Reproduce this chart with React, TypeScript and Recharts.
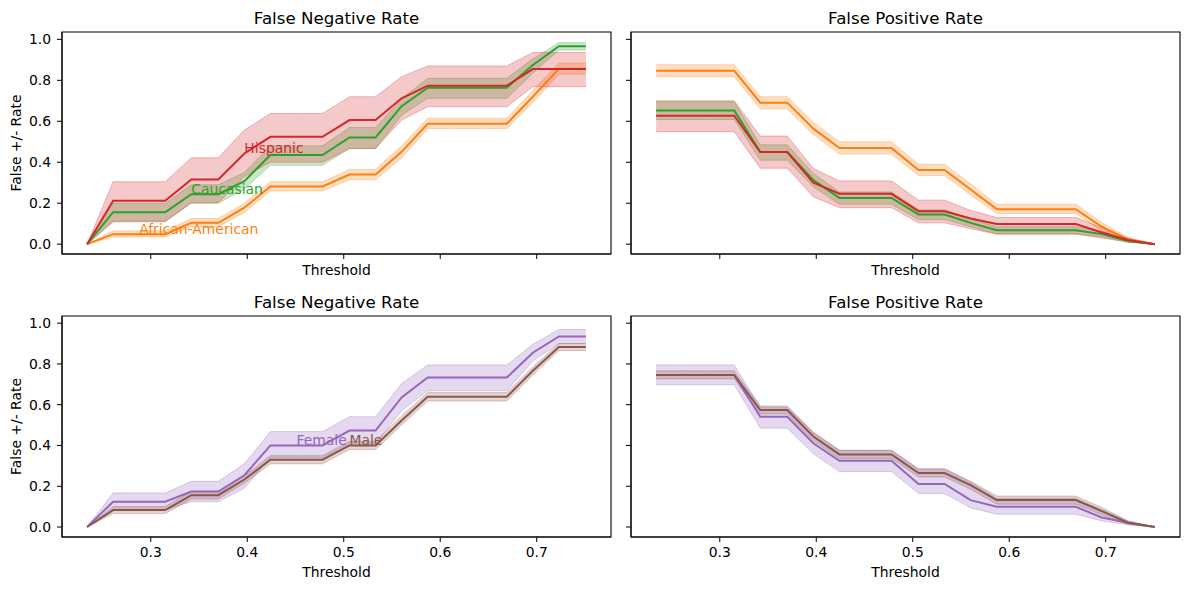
import React from 'react';
import {
  ComposedChart,
  Area,
  Line,
  XAxis,
  YAxis,
  ReferenceArea,
  ReferenceDot,
} from 'recharts';

const FONT = '"DejaVu Sans", sans-serif';

// ---------------- data ----------------
const thresholds = [0.234, 0.261, 0.288, 0.315, 0.342, 0.37, 0.397, 0.424, 0.451, 0.478, 0.506, 0.533, 0.56, 0.587, 0.614, 0.642, 0.669, 0.696, 0.723, 0.751];
const xTicks = [0.3, 0.4, 0.5, 0.6, 0.7];
const yTicks = [0, 0.2, 0.4, 0.6, 0.8, 1.0];

// False negative rate by race
const fnrAfricanAmerican = [0, 0.049, 0.049, 0.049, 0.104, 0.104, 0.178, 0.282, 0.282, 0.282, 0.34, 0.34, 0.451, 0.588, 0.588, 0.588, 0.588, 0.72, 0.857, 0.857];
const fnrAfricanAmericanLo = [0, 0.035, 0.035, 0.035, 0.085, 0.085, 0.155, 0.26, 0.26, 0.26, 0.315, 0.315, 0.42, 0.565, 0.565, 0.565, 0.565, 0.69, 0.83, 0.83];
const fnrAfricanAmericanHi = [0, 0.065, 0.065, 0.065, 0.125, 0.125, 0.2, 0.305, 0.305, 0.305, 0.365, 0.365, 0.48, 0.615, 0.615, 0.615, 0.615, 0.75, 0.885, 0.885];
const fnrCaucasian = [0, 0.156, 0.156, 0.156, 0.244, 0.244, 0.308, 0.435, 0.435, 0.435, 0.521, 0.521, 0.674, 0.764, 0.764, 0.764, 0.764, 0.875, 0.967, 0.967];
const fnrCaucasianLo = [0, 0.112, 0.112, 0.112, 0.2, 0.2, 0.27, 0.385, 0.385, 0.385, 0.467, 0.467, 0.63, 0.712, 0.712, 0.712, 0.712, 0.835, 0.948, 0.948];
const fnrCaucasianHi = [0, 0.199, 0.199, 0.199, 0.29, 0.29, 0.35, 0.48, 0.48, 0.48, 0.57, 0.57, 0.71, 0.81, 0.81, 0.81, 0.81, 0.905, 0.984, 0.984];
const fnrHispanic = [0, 0.212, 0.212, 0.212, 0.316, 0.316, 0.443, 0.524, 0.524, 0.524, 0.606, 0.606, 0.712, 0.774, 0.774, 0.774, 0.774, 0.855, 0.855, 0.855];
const fnrHispanicLo = [0, 0.109, 0.109, 0.109, 0.202, 0.202, 0.33, 0.4, 0.4, 0.4, 0.467, 0.467, 0.606, 0.671, 0.671, 0.671, 0.671, 0.769, 0.769, 0.769];
const fnrHispanicHi = [0, 0.305, 0.305, 0.305, 0.422, 0.422, 0.557, 0.638, 0.638, 0.638, 0.72, 0.72, 0.818, 0.87, 0.87, 0.87, 0.87, 0.936, 0.936, 0.936];

// False positive rate by race
const fprAfricanAmerican = [0.847, 0.847, 0.847, 0.847, 0.691, 0.691, 0.564, 0.469, 0.469, 0.469, 0.362, 0.362, 0.267, 0.171, 0.171, 0.171, 0.171, 0.085, 0.023, 0];
const fprAfricanAmericanLo = [0.818, 0.818, 0.818, 0.818, 0.66, 0.66, 0.535, 0.44, 0.44, 0.44, 0.335, 0.335, 0.24, 0.15, 0.15, 0.15, 0.15, 0.065, 0.013, 0];
const fprAfricanAmericanHi = [0.876, 0.876, 0.876, 0.876, 0.72, 0.72, 0.595, 0.5, 0.5, 0.5, 0.39, 0.39, 0.295, 0.195, 0.195, 0.195, 0.195, 0.105, 0.033, 0];
const fprCaucasian = [0.653, 0.653, 0.653, 0.653, 0.45, 0.45, 0.313, 0.226, 0.226, 0.226, 0.145, 0.145, 0.104, 0.068, 0.068, 0.068, 0.068, 0.049, 0.016, 0];
const fprCaucasianLo = [0.609, 0.609, 0.609, 0.609, 0.41, 0.41, 0.28, 0.195, 0.195, 0.195, 0.12, 0.12, 0.085, 0.05, 0.05, 0.05, 0.05, 0.036, 0.01, 0];
const fprCaucasianHi = [0.695, 0.695, 0.695, 0.695, 0.485, 0.485, 0.345, 0.255, 0.255, 0.255, 0.168, 0.168, 0.125, 0.085, 0.085, 0.085, 0.085, 0.062, 0.022, 0];
const fprHispanic = [0.627, 0.627, 0.627, 0.627, 0.45, 0.45, 0.3, 0.246, 0.246, 0.246, 0.161, 0.161, 0.125, 0.098, 0.098, 0.098, 0.098, 0.057, 0.02, 0];
const fprHispanicLo = [0.549, 0.549, 0.549, 0.549, 0.371, 0.371, 0.231, 0.178, 0.178, 0.178, 0.104, 0.104, 0.075, 0.049, 0.049, 0.049, 0.049, 0.03, 0.01, 0];
const fprHispanicHi = [0.7, 0.7, 0.7, 0.7, 0.528, 0.528, 0.37, 0.309, 0.309, 0.309, 0.215, 0.215, 0.165, 0.13, 0.13, 0.13, 0.13, 0.08, 0.03, 0];

// False negative rate by sex
const fnrFemale = [0, 0.124, 0.124, 0.124, 0.174, 0.174, 0.254, 0.4, 0.4, 0.4, 0.473, 0.473, 0.636, 0.733, 0.733, 0.733, 0.733, 0.855, 0.935, 0.935];
const fnrFemaleLo = [0, 0.083, 0.083, 0.083, 0.124, 0.124, 0.19, 0.34, 0.34, 0.34, 0.408, 0.408, 0.571, 0.668, 0.668, 0.668, 0.668, 0.815, 0.899, 0.899];
const fnrFemaleHi = [0, 0.167, 0.167, 0.167, 0.224, 0.224, 0.31, 0.468, 0.468, 0.468, 0.541, 0.541, 0.704, 0.795, 0.795, 0.795, 0.795, 0.896, 0.969, 0.969];
const fnrMale = [0, 0.083, 0.083, 0.083, 0.156, 0.156, 0.233, 0.33, 0.33, 0.33, 0.4, 0.4, 0.522, 0.639, 0.639, 0.639, 0.639, 0.766, 0.883, 0.883];
const fnrMaleLo = [0, 0.066, 0.066, 0.066, 0.137, 0.137, 0.215, 0.31, 0.31, 0.31, 0.38, 0.38, 0.5, 0.618, 0.618, 0.618, 0.618, 0.745, 0.866, 0.866];
const fnrMaleHi = [0, 0.1, 0.1, 0.1, 0.175, 0.175, 0.25, 0.35, 0.35, 0.35, 0.42, 0.42, 0.545, 0.66, 0.66, 0.66, 0.66, 0.785, 0.9, 0.9];

// False positive rate by sex
const fprFemale = [0.746, 0.746, 0.746, 0.746, 0.541, 0.541, 0.411, 0.325, 0.325, 0.325, 0.211, 0.211, 0.132, 0.099, 0.099, 0.099, 0.099, 0.047, 0.021, 0];
const fprFemaleLo = [0.698, 0.698, 0.698, 0.698, 0.485, 0.485, 0.359, 0.272, 0.272, 0.272, 0.164, 0.164, 0.094, 0.063, 0.063, 0.063, 0.063, 0.03, 0.012, 0];
const fprFemaleHi = [0.795, 0.795, 0.795, 0.795, 0.587, 0.587, 0.465, 0.376, 0.376, 0.376, 0.286, 0.286, 0.22, 0.14, 0.14, 0.14, 0.14, 0.085, 0.03, 0];
const fprMale = [0.746, 0.746, 0.746, 0.746, 0.574, 0.574, 0.444, 0.356, 0.356, 0.356, 0.265, 0.265, 0.205, 0.132, 0.132, 0.132, 0.132, 0.078, 0.021, 0];
const fprMaleLo = [0.726, 0.726, 0.726, 0.726, 0.554, 0.554, 0.424, 0.336, 0.336, 0.336, 0.245, 0.245, 0.185, 0.112, 0.112, 0.112, 0.112, 0.06, 0.012, 0];
const fprMaleHi = [0.766, 0.766, 0.766, 0.766, 0.594, 0.594, 0.464, 0.376, 0.376, 0.376, 0.285, 0.285, 0.225, 0.152, 0.152, 0.152, 0.152, 0.096, 0.03, 0];

// label placement (index into thresholds)
const raceLabelIdx = { africanAmerican: 2, caucasian: 4, hispanic: 6 };
const sexLabelIdx = { female: 8, male: 10 };

// ---------------- layout ----------------
const ORANGE = '#ff7f0e';
const GREEN = '#2ca02c';
const RED = '#d62728';
const PURPLE = '#9467bd';
const BROWN = '#8c564b';

const X_DOMAIN: [number, number] = [0.208, 0.777];
const Y_DOMAIN_TOP: [number, number] = [-0.048, 1.036];
const Y_DOMAIN_BOTTOM: [number, number] = [-0.049, 1.035];

const PLOT_W = 549;
const Y_AXIS_W = 60;
const M_TOP = 10;
const M_RIGHT = 10;
const X_AXIS_H = 50;

type Series = {
  name: string;
  color: string;
  mean: number[];
  lo: number[];
  hi: number[];
  labelIdx?: number;
};

type PanelProps = {
  left: number;
  top: number;
  plotH: number;
  yDomain: [number, number];
  series: Series[];
  showXTickLabels: boolean;
  showYTickLabels: boolean;
  xLabelOffset: number;
};

const fmt1 = (v: number) => v.toFixed(1);
const blank = () => '';

function Panel(p: PanelProps) {
  const data = thresholds.map((t, i) => {
    const row: Record<string, any> = { t };
    p.series.forEach((s, k) => {
      row['m' + k] = s.mean[i];
      row['b' + k] = [s.lo[i], s.hi[i]];
    });
    return row;
  });
  const W = Y_AXIS_W + PLOT_W + M_RIGHT;
  const H = M_TOP + p.plotH + X_AXIS_H;
  const tickStyle = { fill: '#000', fontSize: 13.9, fontFamily: FONT };
  return (
    <div style={{ position: 'absolute', left: p.left - Y_AXIS_W, top: p.top - M_TOP }}>
      <ComposedChart width={W} height={H} data={data} margin={{ top: M_TOP, right: M_RIGHT, bottom: 0, left: 0 }}>
        <XAxis
          type="number"
          dataKey="t"
          domain={X_DOMAIN}
          allowDataOverflow
          ticks={xTicks}
          tickFormatter={p.showXTickLabels ? fmt1 : blank}
          height={X_AXIS_H}
          tickSize={5}
          tickMargin={5}
          stroke="#000"
          tick={tickStyle}
          tickLine={{ stroke: '#000' }}
          axisLine={{ stroke: '#000' }}
          label={{
            content: (lp: any) => {
              const vb = lp.viewBox || {};
              return (
                <text
                  x={vb.x + vb.width / 2}
                  y={vb.y + p.xLabelOffset}
                  textAnchor="middle"
                  fontSize={13.9}
                  fontFamily={FONT}
                  fill="#000"
                >
                  Threshold
                </text>
              );
            },
          }}
        />
        <YAxis
          type="number"
          domain={p.yDomain}
          allowDataOverflow
          ticks={yTicks}
          tickFormatter={p.showYTickLabels ? fmt1 : blank}
          width={Y_AXIS_W}
          tickSize={5}
          tickMargin={6}
          stroke="#000"
          tick={tickStyle}
          tickLine={{ stroke: '#000' }}
          axisLine={{ stroke: '#000' }}
          label={
            p.showYTickLabels
              ? {
                  content: (lp: any) => {
                    const vb = lp.viewBox || {};
                    const cx = vb.x + vb.width - 46;
                    const cy = vb.y + vb.height / 2;
                    return (
                      <text
                        x={cx}
                        y={cy}
                        dy="0.35em"
                        transform={`rotate(-90 ${cx} ${cy})`}
                        textAnchor="middle"
                        fontSize={13.9}
                        fontFamily={FONT}
                        fill="#000"
                      >
                        False +/- Rate
                      </text>
                    );
                  },
                }
              : undefined
          }
        />
        {p.series.map((s, k) => (
          <Area
            key={'b' + k}
            type="linear"
            dataKey={'b' + k}
            stroke={s.color}
            strokeOpacity={0.3}
            strokeWidth={1}
            fill={s.color}
            fillOpacity={0.25}
            dot={false}
            activeDot={false}
            isAnimationActive={false}
          />
        ))}
        {p.series.map((s, k) => (
          <Line
            key={'m' + k}
            type="linear"
            dataKey={'m' + k}
            stroke={s.color}
            strokeWidth={2}
            dot={false}
            activeDot={false}
            isAnimationActive={false}
          />
        ))}
        {p.series
          .filter((s) => s.labelIdx !== undefined)
          .map((s) => (
            <ReferenceDot
              key={'lab' + s.name}
              x={thresholds[s.labelIdx as number]}
              y={s.mean[s.labelIdx as number]}
              r={0}
              fill="none"
              stroke="none"
              label={{
                content: (lp: any) => {
                  const vb = lp.viewBox || {};
                  return (
                    <text x={vb.x} y={vb.y} fontSize={13.9} fontFamily={FONT} fill={s.color}>
                      {s.name}
                    </text>
                  );
                },
              }}
            />
          ))}
        <ReferenceArea
          x1={X_DOMAIN[0]}
          x2={X_DOMAIN[1]}
          y1={p.yDomain[0]}
          y2={p.yDomain[1]}
          fill="none"
          fillOpacity={0}
          stroke="#000"
          strokeWidth={1.1}
        />
      </ComposedChart>
    </div>
  );
}

const fnrRace: Series[] = [
  { name: 'African-American', color: ORANGE, mean: fnrAfricanAmerican, lo: fnrAfricanAmericanLo, hi: fnrAfricanAmericanHi, labelIdx: raceLabelIdx.africanAmerican },
  { name: 'Caucasian', color: GREEN, mean: fnrCaucasian, lo: fnrCaucasianLo, hi: fnrCaucasianHi, labelIdx: raceLabelIdx.caucasian },
  { name: 'Hispanic', color: RED, mean: fnrHispanic, lo: fnrHispanicLo, hi: fnrHispanicHi, labelIdx: raceLabelIdx.hispanic },
];
const fprRace: Series[] = [
  { name: 'African-American', color: ORANGE, mean: fprAfricanAmerican, lo: fprAfricanAmericanLo, hi: fprAfricanAmericanHi },
  { name: 'Caucasian', color: GREEN, mean: fprCaucasian, lo: fprCaucasianLo, hi: fprCaucasianHi },
  { name: 'Hispanic', color: RED, mean: fprHispanic, lo: fprHispanicLo, hi: fprHispanicHi },
];
const fnrSex: Series[] = [
  { name: 'Female', color: PURPLE, mean: fnrFemale, lo: fnrFemaleLo, hi: fnrFemaleHi, labelIdx: sexLabelIdx.female },
  { name: 'Male', color: BROWN, mean: fnrMale, lo: fnrMaleLo, hi: fnrMaleHi, labelIdx: sexLabelIdx.male },
];
const fprSex: Series[] = [
  { name: 'Female', color: PURPLE, mean: fprFemale, lo: fprFemaleLo, hi: fprFemaleHi },
  { name: 'Male', color: BROWN, mean: fprMale, lo: fprMaleLo, hi: fprMaleHi },
];

const titleStyle = { fontSize: 16.67, fontFamily: FONT, fill: '#000' };

export default function App() {
  return (
    <div style={{ position: 'absolute', left: 0, top: 0, width: 1189, height: 590, background: '#fff', overflow: 'hidden' }}>
      <Panel left={62} top={32} plotH={222} yDomain={Y_DOMAIN_TOP} series={fnrRace} showXTickLabels={false} showYTickLabels={true} xLabelOffset={21} />
      <Panel left={631} top={32} plotH={222} yDomain={Y_DOMAIN_TOP} series={fprRace} showXTickLabels={false} showYTickLabels={false} xLabelOffset={21} />
      <Panel left={62} top={316} plotH={221} yDomain={Y_DOMAIN_BOTTOM} series={fnrSex} showXTickLabels={true} showYTickLabels={true} xLabelOffset={40} />
      <Panel left={631} top={316} plotH={221} yDomain={Y_DOMAIN_BOTTOM} series={fprSex} showXTickLabels={true} showYTickLabels={false} xLabelOffset={40} />
      <svg width={1189} height={590} style={{ position: 'absolute', left: 0, top: 0, pointerEvents: 'none' }}>
        <text x={62 + PLOT_W / 2} y={24} textAnchor="middle" {...titleStyle}>False Negative Rate</text>
        <text x={631 + PLOT_W / 2} y={24} textAnchor="middle" {...titleStyle}>False Positive Rate</text>
        <text x={62 + PLOT_W / 2} y={308} textAnchor="middle" {...titleStyle}>False Negative Rate</text>
        <text x={631 + PLOT_W / 2} y={308} textAnchor="middle" {...titleStyle}>False Positive Rate</text>
      </svg>
    </div>
  );
}
